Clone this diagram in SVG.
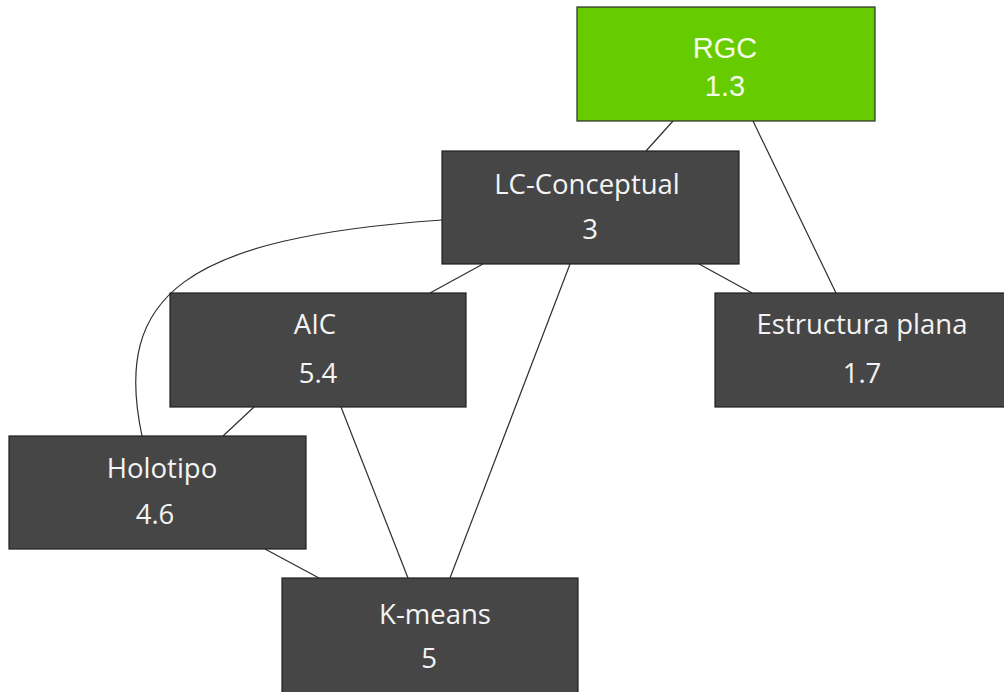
<svg xmlns="http://www.w3.org/2000/svg" width="1004" height="692" viewBox="0 0 1004 692">
  <style>
    .box { fill: #464646; stroke: #1e1e1e; stroke-width: 1.2; }
    .root { fill: #66cc00; stroke: #2a2a2a; stroke-width: 1.2; }
    .lbl { font-family: "Open Sans", "Noto Sans", sans-serif; font-size: 27.5px; fill: #f4f4f4; text-anchor: middle; }
    .rlbl { font-family: "Liberation Sans", Arial, sans-serif; font-size: 29px; fill: #f4fbe8; text-anchor: middle; }
    .edge { fill: none; stroke: #2e2e2e; stroke-width: 1.2; }
  </style>
  <rect width="1004" height="692" fill="#ffffff"/>

  <g id="connectors">
    <line class="edge" x1="673" y1="121" x2="646" y2="151"/>
    <line class="edge" x1="753" y1="121" x2="836" y2="293"/>
    <path class="edge" d="M442,220 C185,238 112,295 142,436"/>
    <line class="edge" x1="483" y1="264" x2="430" y2="293"/>
    <line class="edge" x1="570" y1="264" x2="450" y2="578"/>
    <line class="edge" x1="699" y1="264" x2="752" y2="293"/>
    <line class="edge" x1="254" y1="407" x2="223" y2="436"/>
    <line class="edge" x1="341" y1="407" x2="408" y2="578"/>
    <line class="edge" x1="265" y1="549" x2="319" y2="578"/>
  </g>

  <g id="rgc">
    <rect class="root" x="577" y="7" width="298" height="114"/>
    <text class="rlbl" x="725" y="58">RGC</text>
    <text class="rlbl" x="725" y="96">1.3</text>
  </g>

  <g id="lc-conceptual">
    <rect class="box" x="442" y="151" width="297" height="113"/>
    <text class="lbl" x="587" y="194">LC-Conceptual</text>
    <text class="lbl" x="590" y="239">3</text>
  </g>

  <g id="aic">
    <rect class="box" x="170" y="293" width="296" height="114"/>
    <text class="lbl" x="315" y="334">AIC</text>
    <text class="lbl" x="318" y="383">5.4</text>
  </g>

  <g id="estructura-plana">
    <rect class="box" x="715" y="293" width="292" height="114"/>
    <text class="lbl" x="862" y="334">Estructura plana</text>
    <text class="lbl" x="862" y="383">1.7</text>
  </g>

  <g id="holotipo">
    <rect class="box" x="9" y="436" width="297" height="113"/>
    <text class="lbl" x="162" y="478">Holotipo</text>
    <text class="lbl" x="155" y="524">4.6</text>
  </g>

  <g id="k-means">
    <rect class="box" x="282" y="578" width="296" height="118"/>
    <text class="lbl" x="435" y="624">K-means</text>
    <text class="lbl" x="429" y="668">5</text>
  </g>
</svg>
